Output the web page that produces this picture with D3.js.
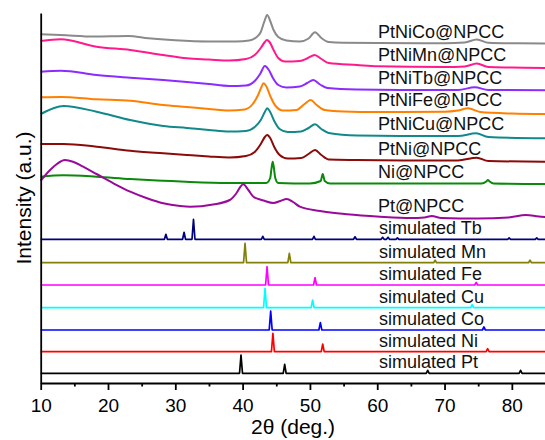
<!DOCTYPE html>
<meta charset="utf-8">
<style>
body { margin: 0; background: #fff; }
svg { display: block; font-family: "Liberation Sans", Arial, sans-serif; }
.trace { fill: none; stroke-width: 2; stroke-linejoin: round; }
.sim { fill: none; stroke-width: 1.7; stroke-linejoin: round; }
.axis path, .axis line { stroke: #000; stroke-width: 1.8; }
.axis text { font-size: 19px; fill: #000; }
.label { font-size: 18px; fill: #111; }
.title { font-size: 21px; fill: #000; }
</style>
<svg width="545" height="440"></svg>
<script src="https://cdnjs.cloudflare.com/ajax/libs/d3/7.8.5/d3.min.js"></script>
<script>
// measured patterns, [2theta, stacked intensity (a.u.)]
var ptniCo = [[10,348.7],[13,348],[18,346.5],[23,347],[26,344.7],[30,342.7],[35,341.5],[39,341.5],[41,342.5],[42,345.5],[42.7,351],[43.2,361],[43.65,368],[44.1,362],[44.6,353],[45.3,346],[46.5,342.5],[48.5,341.5],[49.8,344.5],[50.75,350.7],[51.7,345],[52.8,341],[55,340.3],[60,340],[70,339.7],[73,340.5],[74.8,343.5],[76.5,340.2],[80,339.7],[85,339.5]];
var ptniMn = [[10,342],[13,343.7],[18.3,336.3],[23.3,333],[28.2,328],[31.7,324.7],[35,323.5],[38,322.5],[40.5,324],[41.8,328],[42.7,335],[43.3,341],[43.6,343],[44,341],[44.6,333],[45.3,325],[46.3,321.5],[48.5,322],[49.7,325],[50.7,328],[51.7,324],[52.8,320],[57,318],[60,316.7],[70,316],[73,316.5],[74.8,319.5],[76.5,316],[80,315.5],[85,315]];
var ptniTb = [[10,311.3],[13,312.3],[18.3,308],[23.3,305.3],[28.2,303],[31.7,301],[35,299],[38,297],[40.5,297.5],[41.8,302],[42.6,309],[43.3,317],[43.9,313],[44.5,305],[45.3,298],[46.5,295.5],[48.5,296.5],[49.6,300],[50.5,303],[51.5,298.5],[52.6,295],[57,293.5],[65,293],[72,293],[74.5,295.7],[76.5,293],[85,292.7]];
var ptniFe = [[10,285.7],[13,286],[18.3,283.7],[23.3,282.3],[28.2,278],[31.7,276],[35,274],[38,272.5],[40.3,273.5],[41.5,279],[42.3,288],[42.8,296],[43.1,299.7],[43.5,297],[44.1,287],[44.9,277],[46,272.5],[48,273],[49.2,279],[50.1,283],[51,278],[52.2,273],[55,271.5],[60,271],[70,271.3],[72,272.5],[73.5,274.7],[75.3,271],[80,269.5],[85,269]];
var ptniCu = [[10,269],[13.4,277],[18.3,271.3],[23.3,263],[28.2,257],[31.7,255],[35,253],[38,251.5],[40.5,252],[41.8,256],[42.7,263],[43.3,271],[43.65,274.7],[44.1,271],[44.7,262],[45.5,254],[46.7,251],[48.7,251.5],[49.8,255],[50.76,258.7],[51.7,254],[52.8,250],[57,247.5],[65,247],[72,247],[74.7,249.7],[76.5,246],[85,244.7]];
var ptni = [[10,239],[13.4,239],[18.3,236.3],[23.3,232.3],[28.2,229.7],[31.7,228],[35,226.5],[38,225.5],[40.5,227],[41.8,231],[42.7,239],[43.3,246],[43.65,248],[44.1,245],[44.7,236],[45.5,228],[46.7,224.5],[48.7,225],[49.8,229],[50.76,233],[51.7,228],[52.8,223.5],[57,223],[65,222.5],[72,222.5],[74.8,225.3],[76.5,222],[85,221.3]];
var niNpcc = [[10,206.3],[13.4,207.7],[18.3,206.3],[23.3,204],[28.2,202.3],[32.2,201],[38,200],[43.5,200],[44.1,205],[44.3,215],[44.47,221.3],[44.65,215],[44.85,205],[45.3,200],[50,199.5],[51.6,202],[51.9,209],[52.2,202],[53,199.5],[60,199.5],[75.5,199.5],[76.2,201.5],[76.45,203],[76.7,201.5],[77.3,199.5],[85,199]];
var ptNpcc = [[10,202.3],[11.4,213],[12.4,219],[13.6,223],[14.8,221.3],[16.3,216.3],[18.3,209],[20.8,199.7],[23.3,191.3],[25.8,184.7],[28.2,179.7],[30.7,177],[32.2,176.3],[35.6,178.5],[38.1,183],[39.1,190],[39.7,196.5],[40.1,198.7],[40.85,193],[41.6,186.3],[43.1,182.5],[44.6,180],[45.6,182],[46.55,184],[47.5,181],[48.5,176.3],[51.5,172],[55.5,168.7],[60.4,166.3],[65,165],[67,165.5],[68.1,167],[69.5,165],[75,164.5],[79.5,165.5],[82.1,168],[84,166.5],[85,166]];

var sampleNames = ["PtNiCo@NPCC", "PtNiMn@NPCC", "PtNiTb@NPCC", "PtNiFe@NPCC", "PtNiCu@NPCC", "PtNi@NPCC", "Ni@NPCC", "Pt@NPCC"];
var sampleData = [ptniCo, ptniMn, ptniTb, ptniFe, ptniCu, ptni, niNpcc, ptNpcc];
var sampleColors = ["#8a8a8a", "#ff1a8c", "#8c2bff", "#ff8000", "#11898a", "#8b0a0a", "#0a8a0a", "#9a0a9a"];

// simulated reference patterns: baseline offset and peaks [2theta, height]
var simNames = ["simulated Tb", "simulated Mn", "simulated Fe", "simulated Cu", "simulated Co", "simulated Ni", "simulated Pt"];
var simBase = [143.7, 120.3, 98, 75.3, 53, 31.3, 9.7];
var simPeaks = [
  [[28.6,5],[31.3,7],[32.7,20],[43.0,3],[50.6,3],[56.7,2.5],[60.8,2],[61.6,2],[63.0,1.5],[79.6,1.5],[83.7,1.5]],
  [[40.36,19.4],[46.94,9.4],[68.6,2.5],[82.7,2.5]],
  [[43.63,18.3],[50.76,7.3],[74.7,2.5]],
  [[43.33,19.4],[50.4,7.7],[74.1,3]],
  [[44.17,19],[51.55,7.3],[75.85,3]],
  [[44.5,18.4],[51.9,7.7],[76.4,3]],
  [[39.76,18.3],[46.25,9],[67.5,3],[81.3,3]]
];
var simColors = ["#00007f", "#80800a", "#ff00ff", "#00ffff", "#0000ff", "#ff0000", "#000000"];

var xMajor = [10, 20, 30, 40, 50, 60, 70, 80];
var xMinor = [15, 25, 35, 45, 55, 65, 75, 85];

var svg = d3.select("svg"),
    width = +svg.attr("width"),
    height = +svg.attr("height");

var x = d3.scaleLinear().domain([10, 85]).range([40.7, 545.5]);
var y = d3.scaleLinear().domain([0, 370]).range([383, 13]);

var line = d3.line()
    .x(function(d) { return x(d[0]); })
    .y(function(d) { return y(d[1]); })
    .curve(d3.curveMonotoneX);

var simLine = d3.line()
    .x(function(d) { return x(d[0]); })
    .y(function(d) { return y(d[1]); });

// sim stick patterns -> narrow peaks on a flat baseline
function simPoints(base, peaks) {
  var pts = [[10, base]];
  peaks.forEach(function(p) {
    pts.push([p[0] - 0.22, base], [p[0], base + p[1]], [p[0] + 0.22, base]);
  });
  pts.push([85, base]);
  return pts;
}

svg.append("g").selectAll("path")
  .data(simNames)
  .enter().append("path")
    .attr("class", "sim")
    .attr("stroke", function(d, i) { return simColors[i]; })
    .attr("d", function(d, i) { return simLine(simPoints(simBase[i], simPeaks[i])); });

svg.append("g").selectAll("path")
  .data(sampleNames)
  .enter().append("path")
    .attr("class", "trace")
    .attr("stroke", function(d, i) { return sampleColors[i]; })
    .attr("d", function(d, i) { return line(sampleData[i]); });

// labels sit just above each trace near 2theta = 60
var bis = d3.bisector(function(d) { return d[0]; }).left;
function levelAt(data, t) {
  var i = bis(data, t);
  var a = data[i - 1], b = data[i];
  return a[1] + (b[1] - a[1]) * (t - a[0]) / (b[0] - a[0]);
}

svg.append("g").selectAll("text")
  .data(sampleNames)
  .enter().append("text")
    .attr("class", "label")
    .attr("x", 378)
    .attr("y", function(d, i) { return y(levelAt(sampleData[i], 62)) - 5.5; })
    .text(function(d) { return d; });

svg.append("g").selectAll("text")
  .data(simNames)
  .enter().append("text")
    .attr("class", "label")
    .attr("x", 379)
    .attr("y", function(d, i) { return y(simBase[i]) - 5; })
    .text(function(d) { return d; });

// axes
var gx = svg.append("g")
    .attr("class", "axis")
    .attr("transform", "translate(0," + y(0) + ")")
    .call(d3.axisBottom(x).tickValues(xMajor).tickSize(7).tickSizeOuter(0).tickPadding(9));

svg.append("g")
    .attr("class", "axis")
    .attr("transform", "translate(0," + y(0) + ")")
    .call(d3.axisBottom(x).tickValues(xMinor).tickSize(3.5).tickSizeOuter(0).tickFormat(""))
  .select(".domain").remove();

svg.append("g")
    .attr("class", "axis")
    .attr("transform", "translate(" + x(10) + ",0)")
    .call(d3.axisLeft(y).tickValues([]).tickSizeOuter(0));

svg.append("text")
    .attr("class", "title")
    .attr("x", (x(10) + x(85)) / 2)
    .attr("y", 434)
    .attr("text-anchor", "middle")
    .text("2θ (deg.)");

svg.append("text")
    .attr("class", "title")
    .attr("transform", "translate(30.5," + (y(0) + y(370)) / 2 + ")rotate(-90)")
    .attr("text-anchor", "middle")
    .text("Intensity (a.u.)");
</script>
